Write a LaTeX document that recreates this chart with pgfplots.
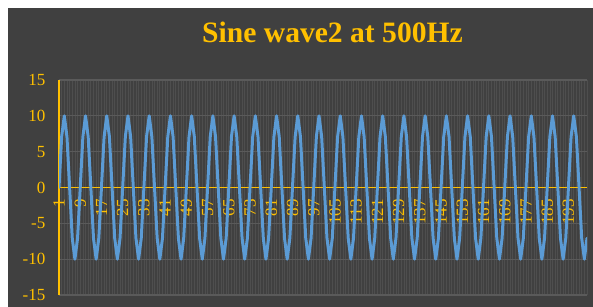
\documentclass[border=0pt]{standalone}
\usepackage{pgfplots}
\pgfplotsset{compat=1.18}
\usepackage{fontspec}
\setmainfont{Liberation Serif}
\definecolor{bg}{HTML}{404040}
\definecolor{gold}{HTML}{FFC000}
\definecolor{wave}{HTML}{5B9BD5}
\definecolor{hgrid}{HTML}{5A5A5A}
\definecolor{vgrid}{HTML}{4E4E4E}
\begin{document}
\begin{tikzpicture}
\path[fill=white] (0,0) rectangle (593bp,307bp);
\fill[bg] (8bp,0) rectangle (593bp,299bp);
\node[anchor=base, text=gold, font=\bfseries\fontsize{29.6bp}{32bp}\selectfont, inner sep=0] at (332.5bp,264bp) {Sine wave2 at 500Hz};
\begin{axis}[at={(59bp,12bp)}, anchor=south west, scale only axis,
  width=528bp, height=215bp,
  xmin=1, xmax=200, ymin=-15, ymax=15,
  axis x line=middle, axis y line=left,
  axis line style={gold, line width=1.5bp, -},
  hide obscured x ticks=false, hide obscured y ticks=false,
  xtick={1,9,...,193}, minor xtick={1,...,200}, ytick={-15,-10,...,15},
  xmajorgrids, xminorgrids, ymajorgrids,
  major x grid style={vgrid, line width=0.7bp},
  minor x grid style={vgrid, line width=0.7bp},
  major y grid style={hgrid, line width=1.2bp},
  tick style={draw=none},
  ticklabel style={text=gold, font=\fontsize{17bp}{18bp}\selectfont},
  /pgf/number format/assume math mode=true,
  xticklabel style={rotate=90, anchor=east},
  xticklabel shift=6bp, yticklabel shift=8bp,
]
\addplot[wave, line width=3bp, line join=round, line cap=round, mark=none] coordinates {
(1,0)(2,7.07)(3,10)(4,7.07)(5,0)(6,-7.07)(7,-10)(8,-7.07)
(9,0)(10,7.07)(11,10)(12,7.07)(13,0)(14,-7.07)(15,-10)(16,-7.07)
(17,0)(18,7.07)(19,10)(20,7.07)(21,0)(22,-7.07)(23,-10)(24,-7.07)
(25,0)(26,7.07)(27,10)(28,7.07)(29,0)(30,-7.07)(31,-10)(32,-7.07)
(33,0)(34,7.07)(35,10)(36,7.07)(37,0)(38,-7.07)(39,-10)(40,-7.07)
(41,0)(42,7.07)(43,10)(44,7.07)(45,0)(46,-7.07)(47,-10)(48,-7.07)
(49,0)(50,7.07)(51,10)(52,7.07)(53,0)(54,-7.07)(55,-10)(56,-7.07)
(57,0)(58,7.07)(59,10)(60,7.07)(61,0)(62,-7.07)(63,-10)(64,-7.07)
(65,0)(66,7.07)(67,10)(68,7.07)(69,0)(70,-7.07)(71,-10)(72,-7.07)
(73,0)(74,7.07)(75,10)(76,7.07)(77,0)(78,-7.07)(79,-10)(80,-7.07)
(81,0)(82,7.07)(83,10)(84,7.07)(85,0)(86,-7.07)(87,-10)(88,-7.07)
(89,0)(90,7.07)(91,10)(92,7.07)(93,0)(94,-7.07)(95,-10)(96,-7.07)
(97,0)(98,7.07)(99,10)(100,7.07)(101,0)(102,-7.07)(103,-10)(104,-7.07)
(105,0)(106,7.07)(107,10)(108,7.07)(109,0)(110,-7.07)(111,-10)(112,-7.07)
(113,0)(114,7.07)(115,10)(116,7.07)(117,0)(118,-7.07)(119,-10)(120,-7.07)
(121,0)(122,7.07)(123,10)(124,7.07)(125,0)(126,-7.07)(127,-10)(128,-7.07)
(129,0)(130,7.07)(131,10)(132,7.07)(133,0)(134,-7.07)(135,-10)(136,-7.07)
(137,0)(138,7.07)(139,10)(140,7.07)(141,0)(142,-7.07)(143,-10)(144,-7.07)
(145,0)(146,7.07)(147,10)(148,7.07)(149,0)(150,-7.07)(151,-10)(152,-7.07)
(153,0)(154,7.07)(155,10)(156,7.07)(157,0)(158,-7.07)(159,-10)(160,-7.07)
(161,0)(162,7.07)(163,10)(164,7.07)(165,0)(166,-7.07)(167,-10)(168,-7.07)
(169,0)(170,7.07)(171,10)(172,7.07)(173,0)(174,-7.07)(175,-10)(176,-7.07)
(177,0)(178,7.07)(179,10)(180,7.07)(181,0)(182,-7.07)(183,-10)(184,-7.07)
(185,0)(186,7.07)(187,10)(188,7.07)(189,0)(190,-7.07)(191,-10)(192,-7.07)
(193,0)(194,7.07)(195,10)(196,7.07)(197,0)(198,-7.07)(199,-10)(200,-7.07)
};
\end{axis}
\end{tikzpicture}
\end{document}
